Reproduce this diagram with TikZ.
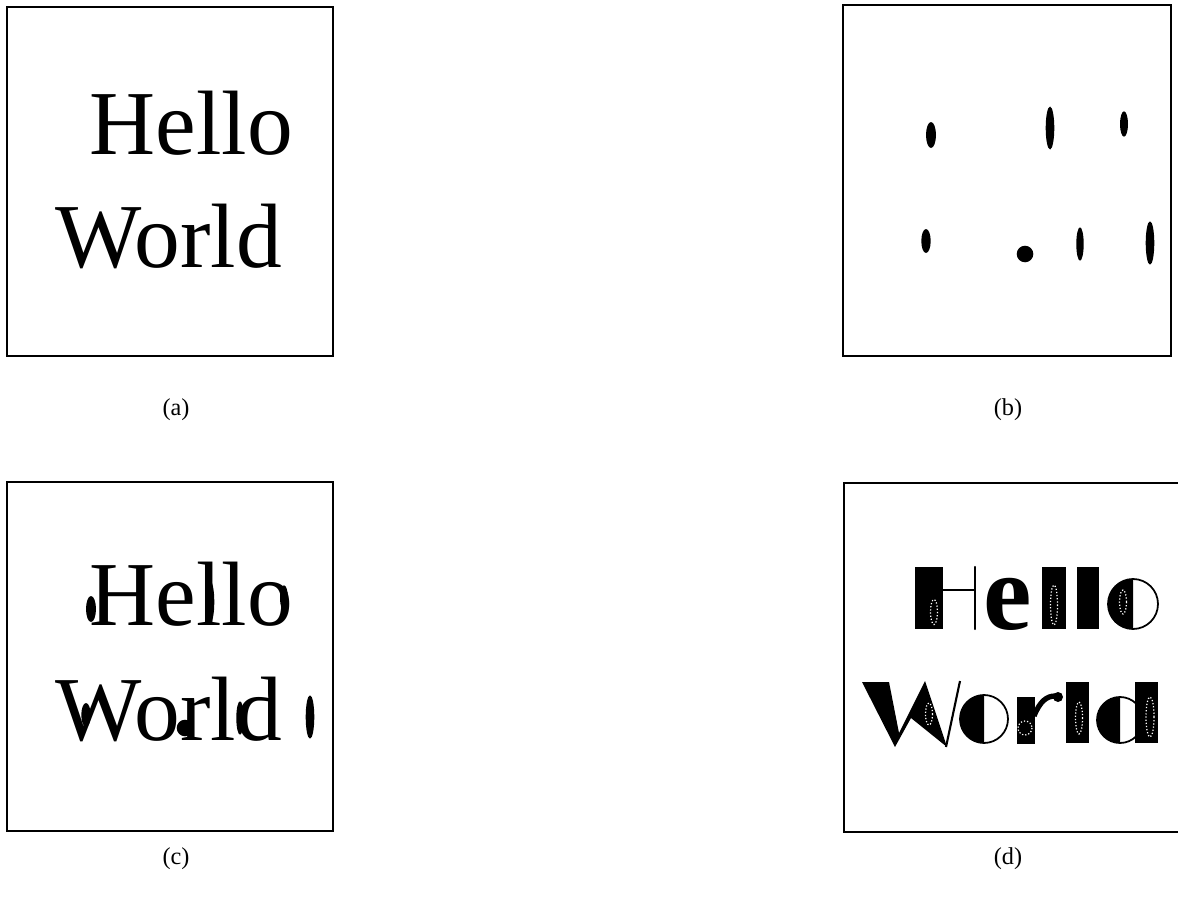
\documentclass[tikz,border=0pt]{standalone}
\usepackage{fontspec}
\setmainfont{Liberation Serif}
\tikzset{
  frame/.style={line width=0.4pt},
  word/.style={anchor=base west, inner sep=0pt, font=\fontsize{26}{30}\selectfont},
  caption/.style={anchor=base, inner sep=0pt, font=\fontsize{6.9}{8}\selectfont},
  hole/.style={draw=white, line width=0.35pt, dash pattern=on 0.35pt off 0.55pt},
  thin/.style={line width=0.5pt},
}
% the seven marks of panel (b)
\newcommand{\drawblobs}{%
  \foreach \bx/\by/\rx/\ry in {931/135/5/13, 1050/128/4.3/21.5, 1124/124/4/12.7,
      926/241/4.7/12, 1025/254/8.3/8.3, 1080/244/3.7/16.7, 1150/243/4.3/21.7}
    \fill (\bx,\by) ellipse [x radius=\rx, y radius=\ry];}
\begin{document}
\begin{tikzpicture}[x=0.01cm, y=-0.01cm]
\useasboundingbox (0,0) rectangle (1178,900);
% (a)
\draw[frame] (7,7) rectangle (333,356);
\node[word] (helloA) at (89,154) {Hello};
\node[word] (worldA) at (55,267) {World};
\node[caption] (capA) at (176,415) {(a)};
% (b)
\draw[frame] (843,5) rectangle (1171,356);
\drawblobs
\node[caption] (capB) at (1008,415) {(b)};
% (c)
\draw[frame] (7,482) rectangle (333,831);
\node[word] (helloC) at (89,625) {Hello};
\node[word] (worldC) at (55,740) {World};
\begin{scope}[shift={(-840,474)}]
  \drawblobs
\end{scope}
\node[caption] (capC) at (176,864) {(c)};
% (d)
\draw[frame] (1180,483) -- (844,483) -- (844,832) -- (1180,832);
% H
\fill (915,567) rectangle (943,629);
\draw[hole] (934,612) ellipse [x radius=3.5, y radius=12.5];
\draw[thin] (943,590) -- (975,590);
\draw[line width=0.6pt, line cap=round] (975,567) -- (975,629);
% e
\node[anchor=base, inner sep=0pt, font=\bfseries\fontsize{31}{34}\selectfont] (eD) at (1008,629) {e};
% l l
\fill (1042,567) rectangle (1066,629);
\draw[hole] (1054,605) ellipse [x radius=3.5, y radius=20];
\fill (1077,567) rectangle (1099,629);
% o
\fill (1133,579) arc[start angle=270, end angle=90, radius=25] -- cycle;
\draw[thin] (1133,604) circle [radius=25];
\draw[hole] (1123,602) ellipse [x radius=3.5, y radius=12];
% W
\fill (862,682) -- (889,682) -- (899,733) -- (925,681) -- (947,747)
  -- (911,718) -- (895,747) -- cycle;
\draw[hole] (929,714) ellipse [x radius=3.5, y radius=11];
\draw[line width=0.6pt] (946,747) -- (960,681);
% o
\fill (984,695) arc[start angle=270, end angle=90, radius=24] -- cycle;
\draw[thin] (984,719) circle [radius=24];
% r
\fill (1017,697) rectangle (1035,744);
\draw[hole] (1025,728) circle [radius=7];
\draw[line width=1.5pt] (1034,716) .. controls (1040,701) and (1047,696) .. (1055,696);
\fill (1058,697) circle [radius=5];
% l
\fill (1066,682) rectangle (1089,743);
\draw[hole] (1079,718) ellipse [x radius=3.5, y radius=16];
% d
\fill (1120,697) arc[start angle=270, end angle=90, radius=23] -- cycle;
\draw[thin] (1120,720) circle [radius=23];
\fill (1135,682) rectangle (1158,743);
\draw[hole] (1150,717) ellipse [x radius=4, y radius=20];
\node[caption] (capD) at (1008,864) {(d)};
\end{tikzpicture}
\end{document}
